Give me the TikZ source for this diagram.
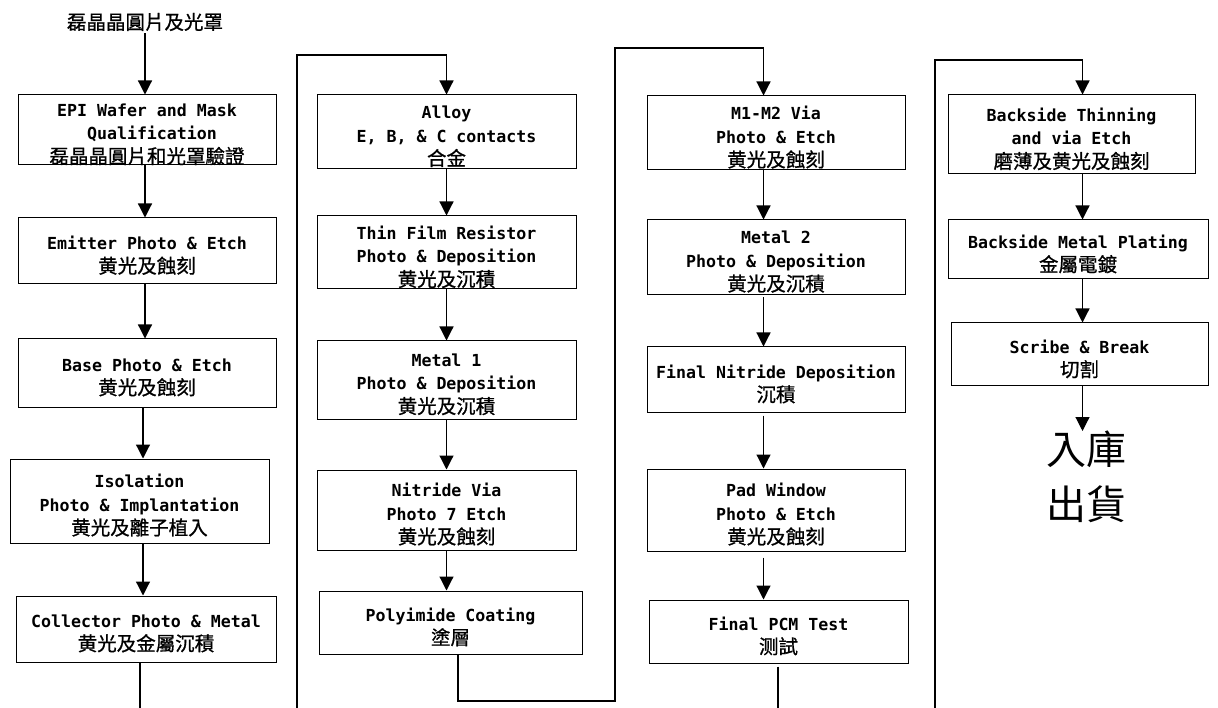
\documentclass[tikz,border=0pt]{standalone}
\usepackage{fontspec}
\setmainfont{DejaVu Sans Mono}
\newfontfamily\cjk{Noto Sans CJK TC}[FakeBold=0.9]
\newfontfamily\cjkplain{Noto Sans CJK TC}
\usetikzlibrary{arrows.meta}
\newcommand\zh[1]{{\cjk\mdseries\fontsize{19.5}{23.5}\selectfont #1}}
\tikzset{
  procbox/.style={draw=black, line width=1pt, rectangle, inner sep=0pt, fill=white},
  proctext/.style={align=center, inner sep=0pt, font=\fontsize{16.6}{23.5}\selectfont\bfseries},
  conn/.style={line width=1.2pt, line join=miter},
  arr/.style={conn, -{Triangle[length=14pt,width=14pt]}},
}
\newcommand\pbox[6]{%
  \node[procbox, minimum width={(#4-#2)*1pt}, minimum height={(#5-#3)*1pt}] (#1) at ({(#2+#4)/2},{(#3+#5)/2}) {};
  \node[proctext] (#1-t) at ([yshift=-4.5pt]#1.center) {#6};
}
\begin{document}
\begin{tikzpicture}[x=1pt,y=-1pt]
\useasboundingbox (0,0) rectangle (1218,708);
\fill[white] (0,0) rectangle (1218,708);
% column x coordinates
\coordinate (c1) at (145,0);
\coordinate (c1b) at (143,0);
\coordinate (c2) at (446.5,0);
\coordinate (c3) at (763.5,0);
\coordinate (c4) at (1082.5,0);
% junctions between columns
\coordinate (j1) at (140,730);
\coordinate (j2) at (297,730);
\coordinate (j3) at (297,55);
\coordinate (j4) at (458,701);
\coordinate (j5) at (615,701);
\coordinate (j6) at (615,48);
\coordinate (j7) at (778,730);
\coordinate (j8) at (935,730);
\coordinate (j9) at (935,60);

\node[inner sep=2pt] (title) at (145,22) {\zh{磊晶晶圓片及光罩}};

% column 1
\pbox{epi}{18}{95}{276}{165}{EPI Wafer and Mask\\\hphantom{a}Qualification\\\zh{磊晶晶圓片和光罩驗證}}
\pbox{emit}{18}{218}{276}{284}{Emitter Photo \& Etch\\\zh{黄光及蝕刻}}
\pbox{base}{18}{339}{276}{407}{Base Photo \& Etch\\\zh{黄光及蝕刻}}
\pbox{iso}{10}{459}{269}{543}{Isolation\\Photo \& Implantation\\\zh{黄光及離子植入}}
\pbox{coll}{16}{596}{276}{662}{Collector Photo \& Metal\\\zh{黄光及金屬沉積}}
% column 2
\pbox{alloy}{317}{95}{576}{169}{Alloy\\E, B, \& C contacts\\\zh{合金}}
\pbox{thin}{317}{216}{576}{289}{Thin Film Resistor\\Photo \& Deposition\\\zh{黄光及沉積}}
\pbox{metal1}{317}{341}{576}{419}{Metal 1\\Photo \& Deposition\\\zh{黄光及沉積}}
\pbox{nv}{317}{470}{576}{550}{Nitride Via\\Photo 7 Etch\\\zh{黄光及蝕刻}}
\pbox{poly}{319}{591}{582}{654}{Polyimide Coating\\\zh{塗層}}
% column 3
\pbox{m12}{647}{96}{905}{170}{M1-M2 Via\\Photo \& Etch\\\zh{黄光及蝕刻}}
\pbox{metal2}{647}{220}{905}{295}{Metal 2\\Photo \& Deposition\\\zh{黄光及沉積}}
\pbox{fnit}{647}{347}{905}{412}{Final Nitride Deposition\\\zh{沉積}}
\pbox{pad}{647}{469}{905}{551}{Pad Window\\Photo \& Etch\\\zh{黄光及蝕刻}}
\pbox{pcm}{649}{600}{908}{663}{Final PCM Test\\\zh{测試}}
% column 4
\pbox{bt}{948}{95}{1195}{174}{Backside Thinning\\and via Etch\\\zh{磨薄及黄光及蝕刻}}
\pbox{bmp}{948}{220}{1208}{279}{Backside Metal Plating\\\zh{金屬電鍍}}
\pbox{scribe}{951}{323}{1208}{386}{Scribe \& Break\\\zh{切割}}

\node[anchor=north, align=center, inner sep=0pt, font=\cjkplain\fontsize{40}{55}\selectfont] (ship) at (1086,431) {入庫\\出貨};

% connectors
\draw[arr] (title.south) -- (title.south |- epi.north);
\draw[arr] (epi.south -| c1) -- (emit.north -| c1);
\draw[arr] (emit.south -| c1) -- (base.north -| c1);
\draw[arr] (base.south -| c1b) -- (iso.north -| c1b);
\draw[arr] (iso.south -| c1b) -- (coll.north -| c1b);

\draw[arr] (alloy.south -| c2) -- (thin.north -| c2);
\draw[arr] (thin.south -| c2) -- (metal1.north -| c2);
\draw[arr] (metal1.south -| c2) -- (nv.north -| c2);
\draw[arr] (nv.south -| c2) -- (poly.north -| c2);

\draw[arr] (m12.south -| c3) -- (metal2.north -| c3);
\draw[arr, shorten <=2pt] (metal2.south -| c3) -- (fnit.north -| c3);
\draw[arr, shorten <=3pt] (fnit.south -| c3) -- (pad.north -| c3);
\draw[arr, shorten <=6pt] (pad.south -| c3) -- (pcm.north -| c3);

\draw[arr] (bt.south -| c4) -- (bmp.north -| c4);
\draw[arr] (bmp.south -| c4) -- (scribe.north -| c4);
\draw[arr] (scribe.south -| c4) -- (ship.north -| c4);

\begin{scope}
\clip (0,0) rectangle (1218,708);
\draw[arr] (coll.south -| j1) -- (j1) -- (j2) -- (j3) -| (alloy.north -| c2);
\draw[arr] (poly.south -| j4) -- (j4) -- (j5) -- (j6) -| (m12.north -| c3);
\draw[arr, shorten <=3pt] (pcm.south -| j7) -- (j7) -- (j8) -- (j9) -| (bt.north -| c4);
\end{scope}
\end{tikzpicture}
\end{document}
